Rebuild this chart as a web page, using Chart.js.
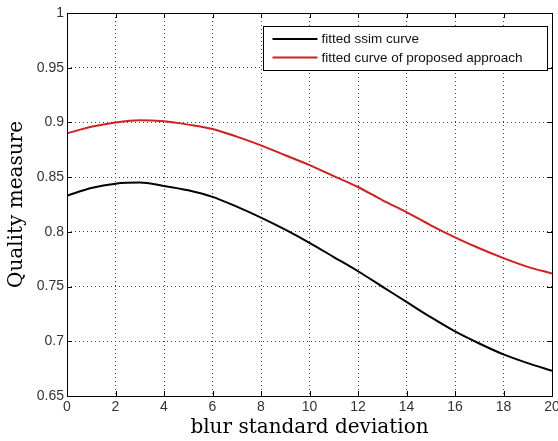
<!DOCTYPE html>
<html>
<head>
<meta charset="utf-8">
<script src="https://cdn.jsdelivr.net/npm/chart.js@4.4.1/dist/chart.umd.min.js"></script>
<style>
  html, body { margin: 0; padding: 0; background: #fff; }
  #wrap { width: 558px; height: 441px; }
</style>
</head>
<body>
<div id="wrap"><canvas id="chart"></canvas></div>
<script>
"use strict";

const blurSigma = [0, 1, 2, 3, 4, 5, 6, 7, 8, 9, 10, 11, 12, 13, 14, 15, 16, 17, 18, 19, 20];
const ssimFit = [0.833, 0.840, 0.844, 0.845, 0.842, 0.838, 0.832, 0.823, 0.813, 0.802, 0.790,
  0.777, 0.764, 0.750, 0.736, 0.722, 0.709, 0.698, 0.688, 0.680, 0.673];
const proposedFit = [0.890, 0.896, 0.900, 0.902, 0.901, 0.898, 0.894, 0.887, 0.879, 0.870, 0.861,
  0.851, 0.841, 0.829, 0.818, 0.806, 0.795, 0.785, 0.776, 0.768, 0.762];
const seriesNames = ["fitted ssim curve", "fitted curve of proposed approach"];
const xTicks = [0, 2, 4, 6, 8, 10, 12, 14, 16, 18, 20];
const yTicks = [0.65, 0.7, 0.75, 0.8, 0.85, 0.9, 0.95, 1];

const tickFont = { family: "'Liberation Sans', Arial, sans-serif", size: 14 };
const labelFont = { family: "'DejaVu Serif', serif", size: 20 };

// MATLAB-ish box, inward ticks and inset legend
const matlabAxes = {
  id: "matlabAxes",
  afterDraw(chart) {
    const { ctx, chartArea: a, scales } = chart;
    ctx.save();
    ctx.strokeStyle = "#000";
    ctx.lineWidth = 1;
    ctx.beginPath();
    xTicks.forEach((t) => {
      const px = Math.round(scales.x.getPixelForValue(t)) + 0.5;
      ctx.moveTo(px, a.bottom); ctx.lineTo(px, a.bottom - 5);
      ctx.moveTo(px, a.top); ctx.lineTo(px, a.top + 5);
    });
    yTicks.forEach((t) => {
      const py = Math.round(scales.y.getPixelForValue(t)) + 0.5;
      ctx.moveTo(a.left, py); ctx.lineTo(a.left + 5, py);
      ctx.moveTo(a.right, py); ctx.lineTo(a.right - 5, py);
    });
    ctx.stroke();
    ctx.strokeRect(Math.round(a.left) + 0.5, Math.round(a.top) + 0.5,
      Math.round(a.right - a.left), Math.round(a.bottom - a.top));

    // legend
    const lx = 263.5, ly = 26.5, lw = 284, lh = 44;
    ctx.fillStyle = "#fff";
    ctx.fillRect(lx, ly, lw, lh);
    ctx.strokeRect(lx, ly, lw, lh);
    ctx.font = "13.5px 'Liberation Sans', Arial, sans-serif";
    ctx.textBaseline = "middle";
    chart.data.datasets.forEach((ds, i) => {
      const y = ly + 12.5 + i * 18.5;
      ctx.strokeStyle = ds.borderColor;
      ctx.lineWidth = 2;
      ctx.beginPath();
      ctx.moveTo(lx + 9, y); ctx.lineTo(lx + 54, y);
      ctx.stroke();
      ctx.fillStyle = "#111";
      ctx.fillText(ds.label, lx + 58, y + 0.5);
    });
    ctx.restore();
  },
};

const ctx = document.getElementById("chart").getContext("2d");
new Chart(ctx, {
  type: "line",
  data: {
    labels: blurSigma,
    datasets: [
      {
        label: seriesNames[0],
        data: blurSigma.map((x, i) => ({ x, y: ssimFit[i] })),
        borderColor: "#000",
        borderWidth: 2,
        pointRadius: 0,
        cubicInterpolationMode: "monotone",
      },
      {
        label: seriesNames[1],
        data: blurSigma.map((x, i) => ({ x, y: proposedFit[i] })),
        borderColor: "#d41f1f",
        borderWidth: 2,
        pointRadius: 0,
        cubicInterpolationMode: "monotone",
      },
    ],
  },
  options: {
    responsive: true,
    maintainAspectRatio: false,
    animation: false,
    layout: { padding: { left: 0, top: 13, right: 6, bottom: 0 } },
    scales: {
      x: {
        type: "linear",
        min: 0,
        max: 20,
        afterBuildTicks: (s) => { s.ticks = xTicks.map((v) => ({ value: v })); },
        afterFit: (s) => { s.height = 45; s.paddingLeft = 0; s.paddingRight = 0; },
        ticks: { color: "#333", font: tickFont, padding: 3, maxRotation: 0 },
        grid: { color: "#444", lineWidth: 1, drawTicks: false },
        border: { display: false, dash: [1, 3] },
        title: { display: true, text: "blur standard deviation", color: "#000", font: labelFont, padding: { top: 0, bottom: 1 } },
      },
      y: {
        type: "linear",
        min: 0.65,
        max: 1,
        afterBuildTicks: (s) => { s.ticks = yTicks.map((v) => ({ value: v })); },
        afterFit: (s) => { s.width = 67; },
        ticks: {
          color: "#333",
          font: tickFont,
          padding: 3,
          callback: (v) => String(Number(Number(v).toFixed(2))),
        },
        grid: { color: "#444", lineWidth: 1, drawTicks: false },
        border: { display: false, dash: [1, 3] },
        title: { display: true, text: "Quality measure", color: "#000", font: labelFont, padding: { top: 5, bottom: 0 } },
      },
    },
    plugins: {
      legend: { display: false },
      tooltip: { enabled: false },
    },
  },
  plugins: [matlabAxes],
});
</script>
</body>
</html>
